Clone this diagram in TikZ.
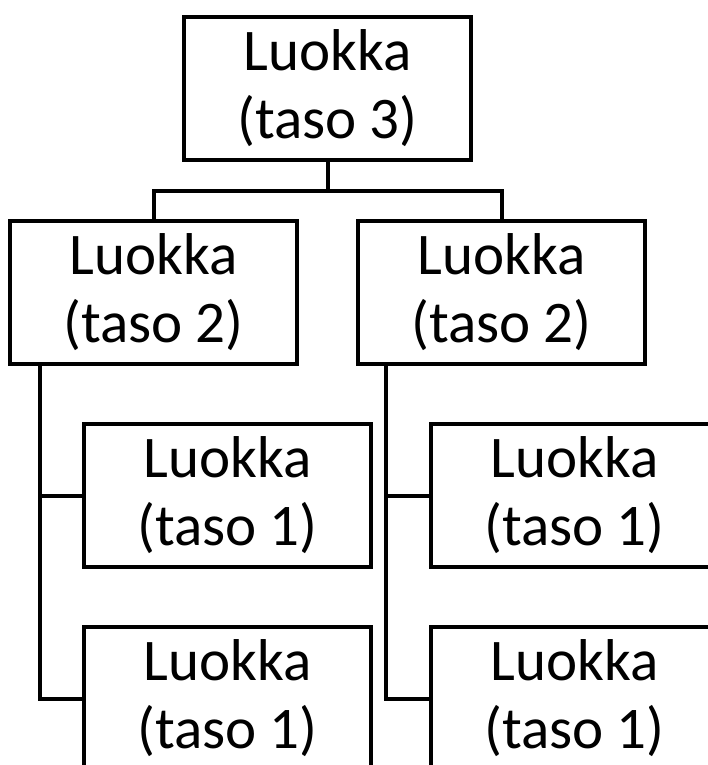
\documentclass[tikz,border=0pt]{standalone}
\usepackage{fontspec}
\setmainfont{Carlito}
\usetikzlibrary{calc}
\tikzset{
  box/.style={draw, line width=4pt, minimum width=287pt, minimum height=143pt,
    align=center, inner sep=0pt, font=\fontsize{59}{68}\selectfont},
  conn/.style={draw, line width=4pt}
}
\begin{document}
\begin{tikzpicture}[x=1pt,y=-1pt]
  \useasboundingbox (0,0) rectangle (707,765);
  % level 3
  \node[box] (top) at (327.5,88.5) {Luokka\\(taso 3)};
  % level 2
  \node[box] (a) at (153.5,292) {Luokka\\(taso 2)};
  \node[box] (b) at (501.5,292) {Luokka\\(taso 2)};
  % level 1
  \node[box] (a1) at (227.5,495.5) {Luokka\\(taso 1)};
  \node[box] (a2) at (227.5,698.5) {Luokka\\(taso 1)};
  \node[box] (b1) at (574.5,495.5) {Luokka\\(taso 1)};
  \node[box] (b2) at (574.5,698.5) {Luokka\\(taso 1)};
  % bus below the top class
  \coordinate (bus) at (327.5,191);
  \draw[conn] (top.south) -- (bus);
  \draw[conn] (a.north) |- (bus) -| (b.north);
  % trunks below the level-2 classes
  \coordinate (ta) at ($(a.south west)+(32,0)$);
  \coordinate (tb) at ($(b.south west)+(30,0)$);
  \draw[conn] (ta) |- (a1.west);
  \draw[conn] (ta) |- (a2.west);
  \draw[conn] (tb) |- (b1.west);
  \draw[conn] (tb) |- (b2.west);
\end{tikzpicture}
\end{document}
